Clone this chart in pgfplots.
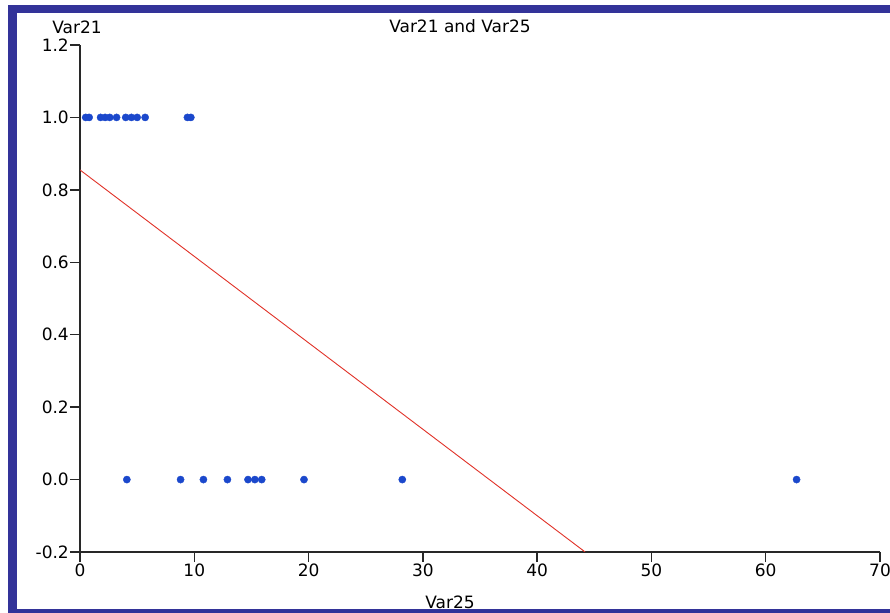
\documentclass[border=0pt]{standalone}
\usepackage{pgfplots}
\pgfplotsset{compat=1.18}
\usepackage{fontspec}
\setmainfont{DejaVu Sans}
\definecolor{framec}{RGB}{51,51,153}
\definecolor{dotc}{RGB}{27,72,204}
\definecolor{axisgray}{RGB}{40,40,40}
\definecolor{linec}{RGB}{225,50,40}
\begin{document}
\begin{tikzpicture}[font=\fontsize{17bp}{20bp}\selectfont]
\useasboundingbox (0bp,0bp) rectangle (890bp,613bp);
\fill[white] (0bp,0bp) rectangle (890bp,613bp);
\fill[framec] (8bp,0bp) rectangle (17bp,608bp);
\fill[framec] (8bp,600bp) rectangle (890bp,608bp);
\fill[framec] (8bp,0bp) rectangle (890bp,4bp);
\begin{axis}[
  at={(80bp,61bp)}, anchor=south west,
  scale only axis, width=800bp, height=507bp,
  xmin=0, xmax=70, ymin=-0.2, ymax=1.2,
  axis x line*=bottom, axis y line*=left,
  axis line style={-, draw=axisgray, line width=1.8bp},
  tick align=outside,
  major tick length=10bp,
  tick style={draw=axisgray, line width=1.5bp},
  xtick={0,10,20,30,40,50,60,70},
  xticklabels={0,10,20,30,40,50,60,70},
  ytick={-0.2,0,0.2,0.4,0.6,0.8,1.0,1.2},
  yticklabels={-0.2,0.0,0.2,0.4,0.6,0.8,1.0,1.2},
  yticklabel style={inner sep=0pt, anchor=east, xshift=-1bp},
  xticklabel style={inner sep=0pt, anchor=north, yshift=-2bp},
]
\addplot[linec, line width=0.9bp, no marks] coordinates {(0,0.855) (44.2,-0.2)};
\addplot[only marks, mark=*, mark size=3.6bp, mark options={draw=dotc, fill=dotc}] coordinates {
(0.5,1) (0.8,1) (1.8,1) (2.2,1) (2.6,1) (3.2,1) (4.0,1) (4.5,1) (5.0,1) (5.7,1) (9.4,1) (9.7,1)
(4.1,0) (8.8,0) (10.8,0) (12.9,0) (14.7,0) (15.3,0) (15.9,0) (19.6,0) (28.2,0) (62.7,0)
};
\end{axis}
% x tick marks
\draw[axisgray, line width=1.5bp] (80bp,61bp) -- (80bp,51bp);
\draw[axisgray, line width=1.5bp] (194.29bp,61bp) -- (194.29bp,51bp);
\draw[axisgray, line width=1.5bp] (308.57bp,61bp) -- (308.57bp,51bp);
\draw[axisgray, line width=1.5bp] (422.86bp,61bp) -- (422.86bp,51bp);
\draw[axisgray, line width=1.5bp] (537.14bp,61bp) -- (537.14bp,51bp);
\draw[axisgray, line width=1.5bp] (651.43bp,61bp) -- (651.43bp,51bp);
\draw[axisgray, line width=1.5bp] (765.71bp,61bp) -- (765.71bp,51bp);
\draw[axisgray, line width=1.5bp] (880bp,61bp) -- (880bp,51bp);
% y tick marks
\draw[axisgray, line width=1.5bp] (80bp,61bp) -- (70bp,61bp);
\draw[axisgray, line width=1.5bp] (80bp,133.43bp) -- (70bp,133.43bp);
\draw[axisgray, line width=1.5bp] (80bp,205.86bp) -- (70bp,205.86bp);
\draw[axisgray, line width=1.5bp] (80bp,278.29bp) -- (70bp,278.29bp);
\draw[axisgray, line width=1.5bp] (80bp,350.71bp) -- (70bp,350.71bp);
\draw[axisgray, line width=1.5bp] (80bp,423.14bp) -- (70bp,423.14bp);
\draw[axisgray, line width=1.5bp] (80bp,495.57bp) -- (70bp,495.57bp);
\draw[axisgray, line width=1.5bp] (80bp,568bp) -- (70bp,568bp);
\node at (77bp,586bp) {Var21};
\node at (460bp,587bp) {Var21 and Var25};
\node at (450bp,11bp) {Var25};
\end{tikzpicture}
\end{document}
